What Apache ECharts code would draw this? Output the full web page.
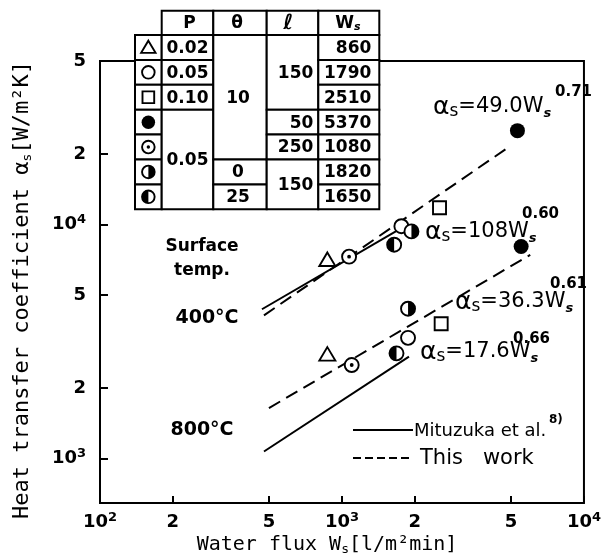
<!DOCTYPE html>
<html><head><meta charset="utf-8">
<script src="https://cdn.jsdelivr.net/npm/echarts@6/dist/echarts.min.js"></script>
<style>html,body{margin:0;padding:0;background:#fff}#c{width:604px;height:558px}</style>
</head><body><div id="c"></div>
<script>
// ---------------- data ----------------
const xTickValues = [100, 200, 500, 1000, 2000, 5000, 10000];
const xTickLabels = ['10^2', '2', '5', '10^3', '2', '5', '10^4'];
const yTickValues = [1000, 2000, 5000, 10000, 20000, 50000];
const yTickLabels = ['10^3', '2', '5', '10^4', '2', '5'];

// measured points [Ws, alpha_s]; first = 400°C, second = 800°C
const triangleData   = [[870, 7060], [870, 2780]];
const openCircleData = [[1760, 9840], [1875, 3280]];
const squareData     = [[2530, 11800], [2570, 3770]];
const filledData     = [[5310, 25200], [5500, 8060]];
const dottedData     = [[1070, 7290], [1097, 2510]];
const halfRightData  = [[1937, 9350], [1875, 4370]];
const halfLeftData   = [[1643, 8200], [1680, 2816]];

// correlation lines (end points)
const mituzuka400 = [[467, 4345], [1841, 9910]];
const thisWork400 = [[476, 4093], [4966, 21680]];
const mituzuka800 = [[476, 1072], [1892, 2724]];
const thisWork800 = [[499, 1643], [5998, 7425]];

const fitCoef = ['49.0', '108', '36.3', '17.6'];
const fitExp  = ['0.71', '0.60', '0.61', '0.66'];

// table
const tableSymbols = ['triangle', 'circle', 'square', 'filled', 'dotted', 'halfRight', 'halfLeft'];
const tableP     = [{t: '0.02', r: 0, n: 1}, {t: '0.05', r: 1, n: 1}, {t: '0.10', r: 2, n: 1}, {t: '0.05', r: 3, n: 4}];
const tableTheta = [{t: '10', r: 0, n: 5}, {t: '0', r: 5, n: 1}, {t: '25', r: 6, n: 1}];
const tableL     = [{t: '150', r: 0, n: 3}, {t: '50', r: 3, n: 1}, {t: '250', r: 4, n: 1}, {t: '150', r: 5, n: 2}];
const tableW     = ['860', '1790', '2510', '5370', '1080', '1820', '1650'];

// ---------------- drawing ----------------
const FONT = 'DejaVu Sans';
const MONO = 'DejaVu Sans Mono';
const lg = Math.log10;
const toLog = arr => arr.map(d => [lg(d[0]), lg(d[1])]);

function tickFormatter(values, labels) {
  return function (v) {
    for (let i = 0; i < values.length; i++) {
      if (Math.abs(lg(values[i]) - v) < 1e-6) {
        const m = labels[i].match(/^10\^(\d+)$/);
        return m ? '{b|10}{sup|' + m[1] + '}' : '{b|' + labels[i] + '}';
      }
    }
    return '';
  };
}
const tickRich = {
  b: {fontFamily: FONT, fontSize: 18, fontWeight: 'bold', lineHeight: 22, color: '#000'},
  sup: {fontFamily: FONT, fontSize: 13, fontWeight: 'bold', lineHeight: 10, verticalAlign: 'top', color: '#000'}
};

function symbolShapes(kind, cx, cy, k) {
  const r = 7 * k, lw = 1.9;
  const open = {fill: '#fff', stroke: '#000', lineWidth: lw};
  const circ = {type: 'circle', shape: {cx: cx, cy: cy, r: r}, style: open};
  switch (kind) {
    case 'triangle':
      return [{type: 'polygon', shape: {points: [[cx, cy - 7.5 * k], [cx + 8 * k, cy + 6 * k], [cx - 8 * k, cy + 6 * k]]}, style: open}];
    case 'circle': return [circ];
    case 'square':
      return [{type: 'rect', shape: {x: cx - 6.5 * k, y: cy - 6.5 * k, width: 13 * k, height: 13 * k}, style: open}];
    case 'filled':
      return [{type: 'circle', shape: {cx: cx, cy: cy, r: 7.5 * k}, style: {fill: '#000'}}];
    case 'dotted':
      return [circ, {type: 'circle', shape: {cx: cx, cy: cy, r: 1.9 * k}, style: {fill: '#000'}}];
    case 'halfRight':
      return [circ, {type: 'sector', shape: {cx: cx, cy: cy, r: r, r0: 0, startAngle: -Math.PI / 2, endAngle: Math.PI / 2, clockwise: true}, style: {fill: '#000'}}];
    case 'halfLeft':
      return [circ, {type: 'sector', shape: {cx: cx, cy: cy, r: r, r0: 0, startAngle: Math.PI / 2, endAngle: Math.PI * 1.5, clockwise: true}, style: {fill: '#000'}}];
  }
  return [];
}

const series = [];
[[mituzuka400, false], [thisWork400, true], [mituzuka800, false], [thisWork800, true]].forEach(function (d) {
  series.push({
    type: 'line', data: toLog(d[0]), symbol: 'none', silent: true, z: 2,
    lineStyle: {color: '#000', width: 2, type: d[1] ? [13, 7] : 'solid'}
  });
});
[['triangle', triangleData], ['circle', openCircleData], ['square', squareData], ['filled', filledData],
 ['dotted', dottedData], ['halfRight', halfRightData], ['halfLeft', halfLeftData]].forEach(function (d) {
  const kind = d[0];
  series.push({
    type: 'custom', coordinateSystem: 'cartesian2d', data: toLog(d[1]), z: 5, silent: true,
    encode: {x: 0, y: 1},
    renderItem: function (params, api) {
      const p = api.coord([api.value(0), api.value(1)]);
      return {type: 'group', children: symbolShapes(kind, p[0], p[1], 1)};
    }
  });
});

// ---- graphic: table ----
const colX = [135, 161.7, 213.3, 266.7, 318.3, 379.3];
const headTop = 10.7, rowTop = 35, rowH = 24.9;
const g = [];
function cell(x0, x1, y0, y1) {
  g.push({type: 'rect', shape: {x: x0, y: y0, width: x1 - x0, height: y1 - y0},
    style: {fill: '#fff', stroke: '#000', lineWidth: 2}, z: 100});
}
function txt(text, x, y, align, size, weight, family) {
  g.push({type: 'text', x: x, y: y, z: 102,
    style: {text: text, fontFamily: family || FONT, fontSize: size || 17, fontWeight: weight || 'bold', fill: '#000', align: align || 'center', verticalAlign: 'middle'}});
}
// header
for (let c = 1; c < 5; c++) cell(colX[c], colX[c + 1], headTop, rowTop);
txt('P', (colX[1] + colX[2]) / 2 + 2, (headTop + rowTop) / 2 + 1, 'center', 17);
txt('θ', (colX[2] + colX[3]) / 2 - 3, (headTop + rowTop) / 2 + 1, 'center', 17);
g.push({type: 'text', x: (colX[3] + colX[4]) / 2 - 4, y: (headTop + rowTop) / 2 + 1, z: 102,
  style: {text: 'ℓ', fontFamily: FONT, fontSize: 21, fontStyle: 'italic', fontWeight: 'bold', fill: '#000', align: 'center', verticalAlign: 'middle'}});
g.push({type: 'text', x: (colX[4] + colX[5]) / 2 - 1, y: (headTop + rowTop) / 2 + 1, z: 102,
  style: {text: '{w|W}{s|s}', align: 'center', verticalAlign: 'middle',
    rich: {w: {fontFamily: FONT, fontSize: 17, fontWeight: 'bold', lineHeight: 18, fill: '#000'},
           s: {fontFamily: FONT, fontSize: 11, fontStyle: 'italic', fontWeight: 'bold', lineHeight: 8, verticalAlign: 'bottom', fill: '#000'}}}});
// body
const rowY = i => rowTop + i * rowH;
tableSymbols.forEach(function (kind, i) {
  cell(colX[0], colX[1], rowY(i), rowY(i + 1));
  symbolShapes(kind, (colX[0] + colX[1]) / 2, rowY(i) + rowH / 2, 0.9).forEach(function (s) { s.z = 103; g.push(s); });
});
tableP.forEach(function (c) {
  cell(colX[1], colX[2], rowY(c.r), rowY(c.r + c.n));
  txt(c.t, (colX[1] + colX[2]) / 2, (rowY(c.r) + rowY(c.r + c.n)) / 2 + 1);
});
tableTheta.forEach(function (c) {
  cell(colX[2], colX[3], rowY(c.r), rowY(c.r + c.n));
  txt(c.t, (colX[2] + colX[3]) / 2 - 2, (rowY(c.r) + rowY(c.r + c.n)) / 2 + 1);
});
tableL.forEach(function (c) {
  cell(colX[3], colX[4], rowY(c.r), rowY(c.r + c.n));
  txt(c.t, colX[4] - 5, (rowY(c.r) + rowY(c.r + c.n)) / 2 + 1, 'right');
});
tableW.forEach(function (t, i) {
  cell(colX[4], colX[5], rowY(i), rowY(i + 1));
  txt(t, colX[5] - 8, rowY(i) + rowH / 2 + 1, 'right');
});

// ---- graphic: fit labels ----
const fitPos = [[433, 107, 555, 92], [425, 232, 522, 214], [455, 302, 550, 284], [420, 352, 513, 339]];
fitCoef.forEach(function (coef, i) {
  const p = fitPos[i];
  g.push({type: 'text', x: p[0], y: p[1], z: 110,
    style: {text: '{a|α}{s|s}{t|=' + coef + 'W}{w|s}', align: 'left', verticalAlign: 'middle',
      rich: {a: {fontFamily: FONT, fontSize: 25, lineHeight: 26, fill: '#000'},
             s: {fontFamily: FONT, fontSize: 17, lineHeight: 16, verticalAlign: 'bottom', fill: '#000'},
             t: {fontFamily: FONT, fontSize: 21, lineHeight: 26, fill: '#000'},
             w: {fontFamily: FONT, fontSize: 13, fontStyle: 'italic', fontWeight: 'bold', lineHeight: 10, verticalAlign: 'bottom', fill: '#000'}}}});
  g.push({type: 'text', x: p[2], y: p[3], z: 110,
    style: {text: fitExp[i], fontFamily: FONT, fontSize: 15, fontWeight: 'bold', fill: '#000', align: 'left', verticalAlign: 'middle'}});
});

// ---- graphic: side labels & legend ----
txt('Surface', 202, 247, 'center', 17);
txt('temp.', 202, 271, 'center', 17);
txt('400°C', 207, 318, 'center', 19);
txt('800°C', 202, 430, 'center', 19);
g.push({type: 'line', shape: {x1: 353, y1: 430, x2: 413, y2: 430}, style: {stroke: '#000', lineWidth: 2}, z: 110});
g.push({type: 'line', shape: {x1: 353, y1: 458, x2: 413, y2: 458}, style: {stroke: '#000', lineWidth: 2, lineDash: [8, 4]}, z: 110});
txt('Mituzuka et al.', 414, 431, 'left', 18, 'normal');
txt('8)', 549, 420, 'left', 12);
txt('This   work', 420, 459, 'left', 21, 'normal');

// ---- axis titles ----
g.push({type: 'text', x: 327, y: 545, z: 110,
  style: {text: '{t|Water flux W}{s|s}{t|[l/m²min]}', align: 'center', verticalAlign: 'middle',
    rich: {t: {fontFamily: MONO, fontSize: 20, lineHeight: 22, fill: '#000'},
           s: {fontFamily: MONO, fontSize: 13, lineHeight: 14, verticalAlign: 'bottom', fill: '#000'}}}});
g.push({type: 'text', x: 22, y: 290, rotation: Math.PI / 2, z: 110,
  style: {text: '{t|Heat transfer coefficient α}{s|s}{t|[W/m²K]}', align: 'center', verticalAlign: 'middle',
    rich: {t: {fontFamily: MONO, fontSize: 22, lineHeight: 24, fill: '#000'},
           s: {fontFamily: MONO, fontSize: 13, lineHeight: 14, verticalAlign: 'bottom', fill: '#000'}}}});

const chart = echarts.init(document.getElementById('c'));
chart.setOption({
  animation: false,
  backgroundColor: '#fff',
  grid: {left: 100, right: 17, top: 61, bottom: 55, show: true, borderColor: '#000', borderWidth: 2, backgroundColor: 'transparent'},
  xAxis: {
    type: 'value', min: 2, max: 4,
    axisLine: {show: false}, splitLine: {show: false},
    axisTick: {show: true, inside: true, length: 7, customValues: xTickValues.map(lg), lineStyle: {color: '#000', width: 2}},
    axisLabel: {show: true, customValues: xTickValues.map(lg), margin: 8, formatter: tickFormatter(xTickValues, xTickLabels), rich: tickRich, color: '#000'}
  },
  yAxis: {
    type: 'value', min: 2.81, max: lg(50000),
    axisLine: {show: false}, splitLine: {show: false},
    axisTick: {show: true, inside: true, length: 8, customValues: yTickValues.map(lg), lineStyle: {color: '#000', width: 2}},
    axisLabel: {show: true, customValues: yTickValues.map(lg), margin: 14, formatter: tickFormatter(yTickValues, yTickLabels), rich: tickRich, color: '#000'}
  },
  series: series,
  graphic: {elements: g}
});
</script>
</body></html>
